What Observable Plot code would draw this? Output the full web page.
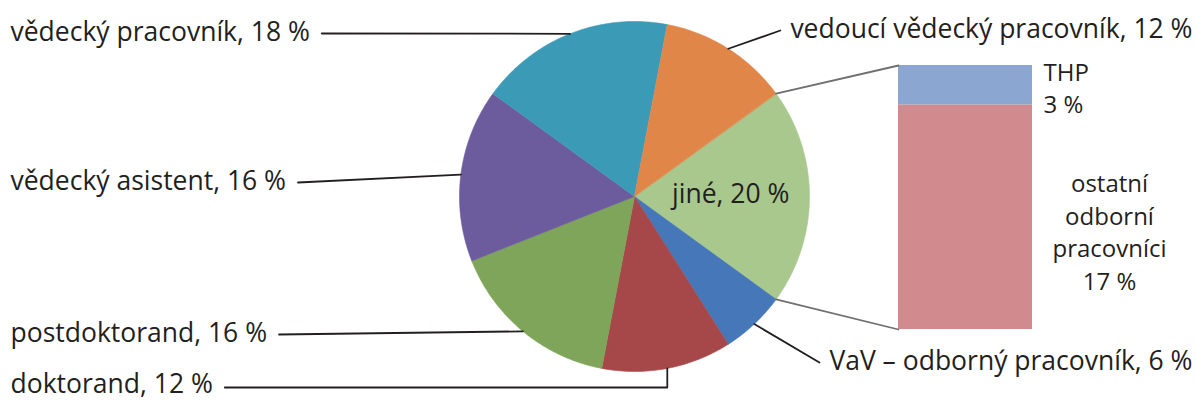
<!DOCTYPE html>
<html><head><meta charset="utf-8">
<script src="https://cdn.jsdelivr.net/npm/d3@7"></script>
<script src="https://cdn.jsdelivr.net/npm/@observablehq/plot@0.6"></script>
<style>body{margin:0;background:#fff}</style>
</head><body><div id="chart"></div>
<script>
// ---- data ----
const categories = ["jiné", "VaV – odborný pracovník", "doktorand", "postdoktorand", "vědecký asistent", "vědecký pracovník", "vedoucí vědecký pracovník"];
const values = [20, 6, 12, 16, 16, 18, 12];
const sliceColors = ["#a9c88e", "#4677b8", "#a6484a", "#7ea55a", "#6d5c9d", "#3b9bb6", "#e08649"];
const barCategories = ["THP", "ostatní odborní pracovníci"];
const barLabelLines = [["THP"], ["ostatní", "odborní", "pracovníci"]];
const barValues = [3, 17];
const barColors = ["#8ba6d1", "#d18a8e"];

// ---- layout ----
const W = 1197, H = 401;
const cx = 634, cy = 196, R = 175;
const bar = {x0: 898, x1: 1032, top: 65, bottom: 329};
const FONT = "Open Sans";
const FS = 26.5;
const FS_BAR = 24;
const LH = 32.5 / FS_BAR;
const ink = "#231f20";

const total = d3.sum(values);
const toRad = a => a * Math.PI / 180;
const pt = (a, r = R) => ({x: cx + r * Math.sin(toRad(a)), y: cy - r * Math.cos(toRad(a))});
const start = 90 - values[0] / total * 360 / 2;
let acc = start;
const slices = values.map((v, i) => {
  const a0 = acc, a1 = acc + v / total * 360; acc = a1;
  const pts = [{x: cx, y: cy}];
  const n = Math.max(2, Math.ceil(a1 - a0));
  for (let k = 0; k <= n; k++) pts.push(pt(a0 + (a1 - a0) * k / n));
  return {name: categories[i], value: v, a0, a1, mid: (a0 + a1) / 2, pts, color: sliceColors[i]};
});

// bar segments (stacked, first on top)
const barScale = d3.scaleLinear().domain([0, d3.sum(barValues)]).range([bar.top, bar.bottom]);
let bacc = 0;
const barRows = barValues.map((v, i) => {
  const r = {name: barCategories[i], value: v, y1: barScale(bacc), y2: barScale(bacc + v), x1: bar.x0, x2: bar.x1, color: barColors[i]};
  bacc += v; return r;
});

// text measurement
const ctx = document.createElement("canvas").getContext("2d");
ctx.font = `${FS}px "${FONT}"`;
const tw = s => ctx.measureText(s).width;
const lab = (i) => `${categories[i]}, ${values[i]} %`;

// outer labels
const leftLabels = [
  {i: 5, y: 32},
  {i: 4, y: 181},
  {i: 3, y: 333},
  {i: 2, y: 384, elbow: true}
];
const rightLabels = [
  {i: 6, y: 29},
  {i: 1, y: 361}
];
const textRows = [];
const leaders = [];
leftLabels.forEach(({i, y, elbow}) => {
  const s = lab(i);
  textRows.push({text: s, x: 10, y, anchor: "start"});
  const e = pt(slices[i].mid);
  const xs = 10 + tw(s) + 12;
  const ly = y + (elbow ? 3 : 1);
  if (elbow) {
    leaders.push([{x: xs, y: ly}, {x: e.x, y: ly}, {x: e.x, y: e.y}]);
  } else {
    leaders.push([{x: xs, y: ly}, {x: e.x, y: e.y}]);
  }
});
rightLabels.forEach(({i, y}) => {
  const s = lab(i);
  textRows.push({text: s, x: 1192, y, anchor: "end"});
  const e = pt(slices[i].mid);
  const xe = 1192 - tw(s) - 10;
  leaders.push([{x: e.x, y: e.y}, {x: xe, y: y + 1}]);
});

// connector lines from "jiné" slice to bar
const j = slices[0];
const connectors = [
  [pt(j.a0), {x: bar.x0, y: bar.top}],
  [pt(j.a1), {x: bar.x0, y: bar.bottom}]
];

const jPos = pt(j.mid, R * 0.55);
const innerText = [{text: lab(0), x: jPos.x, y: jPos.y - 2}];
const barText = [
  {text: [...barLabelLines[0], `${barValues[0]} %`].join("\n"), x: 1043, y: 86, anchor: "start"},
  {text: [...barLabelLines[1], `${barValues[1]} %`].join("\n"), x: 1109, y: 230, anchor: "middle"}
];

const marks = [
  ...slices.map(s => Plot.line(s.pts, {x: "x", y: "y", fill: s.color, stroke: s.color, strokeWidth: 0.6, curve: "linear-closed"})),
  Plot.rect(barRows, {x1: "x1", x2: "x2", y1: "y1", y2: "y2", fill: "color"}),
  ...connectors.map(c => Plot.line(c, {x: "x", y: "y", stroke: "#6f6f6f", strokeWidth: 1.8})),
  ...leaders.map(l => Plot.line(l, {x: "x", y: "y", stroke: ink, strokeWidth: 1.8})),
  Plot.text(textRows.filter(d => d.anchor === "start"), {x: "x", y: "y", text: "text", textAnchor: "start", fill: ink, fontSize: FS}),
  Plot.text(textRows.filter(d => d.anchor === "end"), {x: "x", y: "y", text: "text", textAnchor: "end", fill: ink, fontSize: FS}),
  Plot.text(innerText, {x: "x", y: "y", text: "text", fill: ink, fontSize: FS}),
  Plot.text(barText.filter(d => d.anchor === "start"), {x: "x", y: "y", text: "text", textAnchor: "start", lineHeight: LH, fill: ink, fontSize: FS_BAR}),
  Plot.text(barText.filter(d => d.anchor === "middle"), {x: "x", y: "y", text: "text", textAnchor: "middle", lineHeight: LH, fill: ink, fontSize: FS_BAR})
];

const chart = Plot.plot({
  width: W, height: H,
  margin: 0,
  x: {domain: [0, W], range: [0, W], axis: null},
  y: {domain: [0, H], range: [0, H], axis: null},
  color: {type: "identity"},
  style: {fontFamily: `"${FONT}", sans-serif`, background: "#fff"},
  marks
});
document.getElementById("chart").appendChild(chart);
</script>
</body></html>
